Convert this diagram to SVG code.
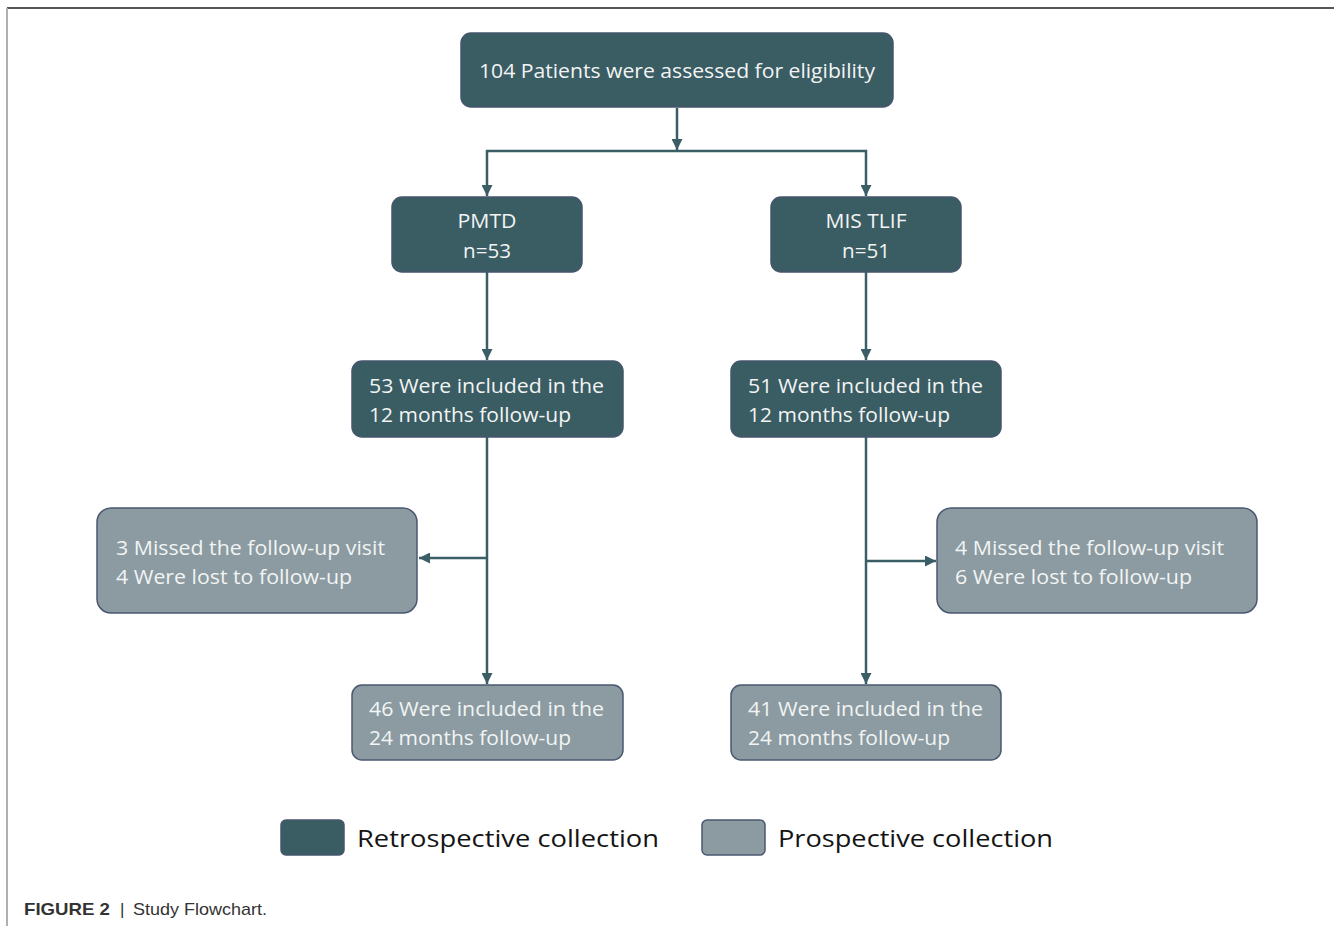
<svg xmlns="http://www.w3.org/2000/svg" width="1334" height="926" viewBox="0 0 1334 926">
<defs>
<style>
.dark{fill:#3a5c63;stroke:#45566c;stroke-width:1.5}
.gray{fill:#8b9ba1;stroke:#4a5870;stroke-width:1.5}
.t{font-family:"Open Sans","Noto Sans",sans-serif;font-size:20px;fill:#f2f4f4}
.lg{font-family:"Open Sans","Noto Sans",sans-serif;font-size:23px;fill:#141414}
.cap{font-family:"Liberation Sans",Arial,sans-serif;font-size:17px;fill:#333}
.conn{fill:none;stroke:#3b5e66;stroke-width:2.5}
</style>
<marker id="ah" markerUnits="userSpaceOnUse" viewBox="0 0 10 10" refX="10" refY="5" markerWidth="11" markerHeight="11" orient="auto">
<path d="M0,0 L10,5 L0,10 z" fill="#3b5e66"/>
</marker>
</defs>
<rect x="0" y="0" width="1334" height="926" fill="#ffffff"/>
<g id="frame">
<line x1="7" y1="8" x2="1334" y2="8" stroke="#555" stroke-width="2"/>
<line x1="7" y1="8" x2="7" y2="926" stroke="#b0b0b0" stroke-width="2"/>
</g>
<g id="connectors">
<path class="conn" d="M677,108 V150" marker-end="url(#ah)"/>
<path class="conn" d="M677,151 H487 V196" marker-end="url(#ah)"/>
<path class="conn" d="M677,151 H866 V196" marker-end="url(#ah)"/>
<path class="conn" d="M487,272 V360" marker-end="url(#ah)"/>
<path class="conn" d="M866,272 V360" marker-end="url(#ah)"/>
<path class="conn" d="M487,437 V684" marker-end="url(#ah)"/>
<path class="conn" d="M487,558 H419" marker-end="url(#ah)"/>
<path class="conn" d="M866,437 V684" marker-end="url(#ah)"/>
<path class="conn" d="M866,561 H936" marker-end="url(#ah)"/>
</g>
<g id="n-assessed">
<rect class="dark" x="461" y="33" width="432" height="74" rx="10"/>
<text class="t" x="677" y="78" text-anchor="middle" textLength="396" lengthAdjust="spacingAndGlyphs">104 Patients were assessed for eligibility</text>
</g>
<g id="n-pmtd">
<rect class="dark" x="392" y="197" width="190" height="75" rx="10"/>
<text class="t" x="487" y="228" text-anchor="middle" textLength="59" lengthAdjust="spacingAndGlyphs">PMTD</text>
<text class="t" x="487" y="258" text-anchor="middle" textLength="48" lengthAdjust="spacingAndGlyphs">n=53</text>
</g>
<g id="n-mistlif">
<rect class="dark" x="771" y="197" width="190" height="75" rx="10"/>
<text class="t" x="866" y="228" text-anchor="middle" textLength="81" lengthAdjust="spacingAndGlyphs">MIS TLIF</text>
<text class="t" x="866" y="258" text-anchor="middle" textLength="48" lengthAdjust="spacingAndGlyphs">n=51</text>
</g>
<g id="n-pmtd12">
<rect class="dark" x="352" y="361" width="271" height="76" rx="10"/>
<text class="t" x="369" y="393" textLength="235" lengthAdjust="spacingAndGlyphs">53 Were included in the</text>
<text class="t" x="369" y="422" textLength="202" lengthAdjust="spacingAndGlyphs">12 months follow-up</text>
</g>
<g id="n-mis12">
<rect class="dark" x="731" y="361" width="270" height="76" rx="10"/>
<text class="t" x="748" y="393" textLength="235" lengthAdjust="spacingAndGlyphs">51 Were included in the</text>
<text class="t" x="748" y="422" textLength="202" lengthAdjust="spacingAndGlyphs">12 months follow-up</text>
</g>
<g id="n-pmtdlost">
<rect class="gray" x="97" y="508" width="320" height="105" rx="14"/>
<text class="t" x="116" y="555" textLength="269" lengthAdjust="spacingAndGlyphs">3 Missed the follow-up visit</text>
<text class="t" x="116" y="584" textLength="236" lengthAdjust="spacingAndGlyphs">4 Were lost to follow-up</text>
</g>
<g id="n-mislost">
<rect class="gray" x="937" y="508" width="320" height="105" rx="14"/>
<text class="t" x="955" y="555" textLength="269" lengthAdjust="spacingAndGlyphs">4 Missed the follow-up visit</text>
<text class="t" x="955" y="584" textLength="237" lengthAdjust="spacingAndGlyphs">6 Were lost to follow-up</text>
</g>
<g id="n-pmtd24">
<rect class="gray" x="352" y="685" width="271" height="75" rx="10"/>
<text class="t" x="369" y="716" textLength="235" lengthAdjust="spacingAndGlyphs">46 Were included in the</text>
<text class="t" x="369" y="745" textLength="202" lengthAdjust="spacingAndGlyphs">24 months follow-up</text>
</g>
<g id="n-mis24">
<rect class="gray" x="731" y="685" width="270" height="75" rx="10"/>
<text class="t" x="748" y="716" textLength="235" lengthAdjust="spacingAndGlyphs">41 Were included in the</text>
<text class="t" x="748" y="745" textLength="202" lengthAdjust="spacingAndGlyphs">24 months follow-up</text>
</g>
<g id="legend">
<rect class="dark" x="281" y="820" width="63" height="35" rx="5"/>
<text class="lg" x="357" y="847" textLength="302" lengthAdjust="spacingAndGlyphs">Retrospective collection</text>
<rect class="gray" x="702" y="820" width="63" height="35" rx="5"/>
<text class="lg" x="778" y="847" textLength="275" lengthAdjust="spacingAndGlyphs">Prospective collection</text>
</g>
<g id="caption">
<text class="cap" x="24" y="915"><tspan font-weight="bold" textLength="86" lengthAdjust="spacingAndGlyphs">FIGURE 2</tspan></text>
<text class="cap" x="120" y="915">|</text>
<text class="cap" x="133" y="915" textLength="134" lengthAdjust="spacingAndGlyphs">Study Flowchart.</text>
</g>
</svg>
